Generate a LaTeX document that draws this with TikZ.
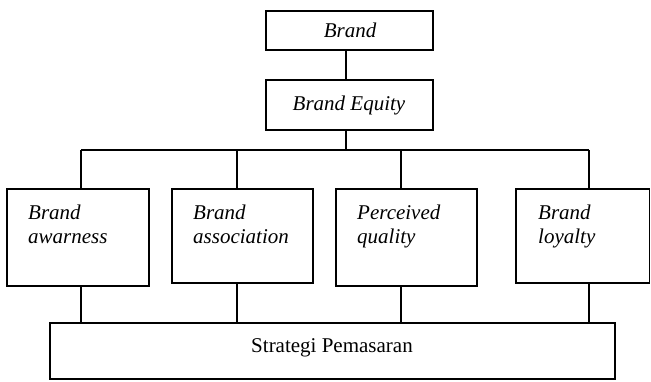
\documentclass[tikz,border=0pt]{standalone}
\usepackage{fontspec}
\setmainfont{Liberation Serif}
\usetikzlibrary{calc}
\begin{document}
\begin{tikzpicture}[x=1pt,y=-1pt,
  box/.style={draw,line width=1.2pt,inner sep=0pt,outer sep=0pt,anchor=north west},
  lbl/.style={font=\fontsize{21}{24}\selectfont\itshape,inner sep=0pt,align=left},
  link/.style={line width=1.2pt}]
\useasboundingbox (0,0) rectangle (651,381);
% top chain
\node[box,minimum width=167,minimum height=39] (brand) at (266,11) {};
\node[lbl,anchor=base] at (350,37) {Brand};
\node[box,minimum width=167,minimum height=50] (equity) at (266,80) {};
\node[lbl,anchor=base] at (349,110) {Brand Equity};
% dimension boxes
\node[box,minimum width=142,minimum height=97] (b1) at (7,189) {};
\node[box,minimum width=141,minimum height=94] (b2) at (172,189) {};
\node[box,minimum width=141,minimum height=97] (b3) at (336,189) {};
\node[box,minimum width=133.5,minimum height=94] (b4) at (516,189) {};
% two-line labels: the base anchor sits on the second line's baseline
\node[lbl,anchor=base west] at (28,243) {Brand\\awarness};
\node[lbl,anchor=base west] at (193,243) {Brand\\association};
\node[lbl,anchor=base west] at (357,243) {Perceived\\quality};
\node[lbl,anchor=base west] at (538,243) {Brand\\loyalty};
% bottom box
\node[box,minimum width=565,minimum height=56] (sp) at (50,323) {};
\node[font=\fontsize{21}{24}\selectfont,inner sep=0pt,anchor=base] at (332,352) {Strategi Pemasaran};
% bus coordinates
\coordinate (te) at (346,150);
\coordinate (t1) at (81,150);
\coordinate (t2) at (237,150);
\coordinate (t3) at (401,150);
\coordinate (t4) at (589,150);
% connectors
\draw[link] (te |- brand.south) -- (te |- equity.north);
\draw[link] (te |- equity.south) -- (te);
\draw[link] (t1) -- (t4);
\foreach \i in {1,2,3,4}{
  \draw[link] (t\i) -- (t\i |- b\i.north);
  \draw[link] (t\i |- b\i.south) -- (t\i |- sp.north);
}
\end{tikzpicture}
\end{document}
